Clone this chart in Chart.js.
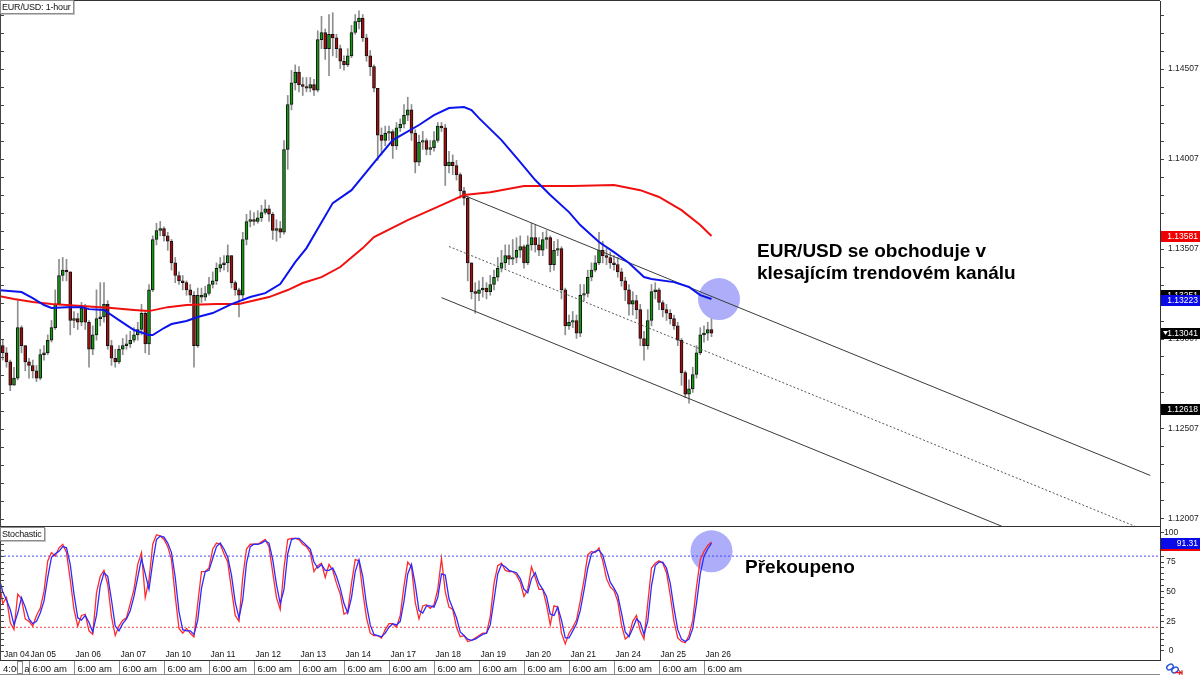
<!DOCTYPE html>
<html lang="cs">
<head>
  <meta charset="UTF-8">
  <title>EUR/USD: 1-hour</title>
  <script src="https://cdn.jsdelivr.net/npm/chart.js"></script>
  <style>
    body {
      margin: 0;
      background: #fff;
      font-family: 'Liberation Sans', Arial, sans-serif;
    }

    #wrap {
      position: relative;
      width: 1200px;
      height: 675px;
      overflow: hidden;
      background: #fff;
    }

    #mainPanel { position: absolute; left: 0; top: 0; }
    #stochPanel { position: absolute; left: 0; top: 527px; }

    .caption {
      position: absolute;
      left: 0;
      background: #fff;
      border: 1px solid #8c8c8c;
      box-shadow: 1px 1px 0 #c4c4c4;
      font-size: 9px;
      line-height: 12px;
      letter-spacing: -0.2px;
      padding: 0 2px 0 1px;
      color: #111;
    }

    .note {
      position: absolute;
      font-weight: bold;
      font-size: 19px;
      line-height: 21.5px;
      color: #000;
      white-space: nowrap;
    }
  </style>
</head>
<body>
<div id="wrap">
  <canvas id="mainPanel" width="1200" height="527"></canvas>
  <canvas id="stochPanel" width="1200" height="148"></canvas>
  <div class="caption" style="top:0">EUR/USD: 1-hour</div>
  <div class="caption" style="top:527px">Stochastic</div>
  <div class="note" style="left:757px; top:240px">EUR/USD se obchoduje v<br>klesajícím trendovém kanálu</div>
  <div class="note" style="left:745px; top:556px">Překoupeno</div>
</div>

<script>
  // 2-hour candles, index 0 = Jan 04 08:00, a new day every 12 candles
  const opens = [
    1.1300,1.1297,1.1293,1.1288,1.1275,1.1279,1.1307,1.1297,1.1288,1.1286,
    1.1283,1.1279,1.1292,1.1293,1.1300,1.1307,1.1320,1.1336,1.1339,1.1338,
    1.1311,1.1312,1.1310,1.1318,1.1310,1.1295,1.1303,1.1312,1.1313,1.1320,
    1.1297,1.1290,1.1288,1.1295,1.1297,1.1298,1.1300,1.1303,1.1306,1.1315,
    1.1298,1.1328,1.1356,1.1361,1.1362,1.1358,1.1355,1.1343,1.1336,1.1333,
    1.1332,1.1328,1.1325,1.1297,1.1325,1.1324,1.1326,1.1331,1.1333,1.1340,
    1.1342,1.1343,1.1347,1.1332,1.1328,1.1325,1.1356,1.1366,1.1367,1.1366,
    1.1368,1.1371,1.1373,1.1370,1.1361,1.1362,1.1360,1.1406,1.1431,1.1443,
    1.1449,1.1442,1.1441,1.1440,1.1442,1.1439,1.1467,1.1471,1.1462,1.1470,
    1.1468,1.1462,1.1455,1.1453,1.1458,1.1471,1.1477,1.1479,1.1468,1.1458,
    1.1452,1.1440,1.1414,1.1411,1.1415,1.1416,1.1408,1.1418,1.1420,1.1425,
    1.1428,1.1415,1.1399,1.1410,1.1411,1.1406,1.1407,1.1411,1.1419,1.1418,
    1.1397,1.1399,1.1397,1.1392,1.1383,1.1379,1.1343,1.1327,1.1326,1.1328,
    1.1329,1.1327,1.1331,1.1335,1.1340,1.1343,1.1347,1.1345,1.1346,1.1350,
    1.1352,1.1343,1.1353,1.1357,1.1353,1.1350,1.1356,1.1357,1.1342,1.1350,
    1.1351,1.1328,1.1308,1.1310,1.1311,1.1304,1.1325,1.1326,1.1335,1.1339,
    1.1343,1.1350,1.1347,1.1346,1.1343,1.1342,1.1338,1.1333,1.1328,1.1320,
    1.1322,1.1317,1.1301,1.1297,1.1311,1.1327,1.1328,1.1321,1.1317,1.1315,
    1.1312,1.1308,1.1300,1.1282,1.1270,1.1273,1.1281,1.1293,1.1303,1.1304,
    1.1306
  ];
  const highs = [
    1.1303,1.1300,1.1296,1.1289,1.1285,1.1322,1.1308,1.1297,1.1290,1.1289,
    1.1286,1.1295,1.1297,1.1303,1.1311,1.1328,1.1345,1.1346,1.1345,1.1338,
    1.1316,1.1315,1.1321,1.1320,1.1311,1.1308,1.1328,1.1332,1.1332,1.1322,
    1.1300,1.1295,1.1297,1.1301,1.1303,1.1305,1.1307,1.1310,1.1320,1.1316,
    1.1331,1.1358,1.1365,1.1366,1.1363,1.1360,1.1356,1.1346,1.1338,1.1336,
    1.1333,1.1331,1.1327,1.1329,1.1329,1.1330,1.1335,1.1338,1.1343,1.1346,
    1.1347,1.1353,1.1347,1.1333,1.1329,1.1360,1.1370,1.1372,1.1371,1.1372,
    1.1375,1.1378,1.1375,1.1371,1.1367,1.1366,1.1411,1.1436,1.1450,1.1453,
    1.1452,1.1446,1.1446,1.1446,1.1445,1.1472,1.1480,1.1473,1.1481,1.1482,
    1.1470,1.1464,1.1458,1.1462,1.1475,1.1481,1.1483,1.1481,1.1470,1.1461,
    1.1453,1.1440,1.1418,1.1419,1.1419,1.1417,1.1421,1.1423,1.1431,1.1435,
    1.1431,1.1417,1.1414,1.1416,1.1412,1.1411,1.1416,1.1421,1.1421,1.1420,
    1.1405,1.1403,1.1400,1.1393,1.1385,1.1380,1.1343,1.1332,1.1333,1.1335,
    1.1332,1.1336,1.1339,1.1346,1.1350,1.1353,1.1353,1.1356,1.1357,1.1358,
    1.1353,1.1358,1.1365,1.1364,1.1357,1.1360,1.1361,1.1358,1.1355,1.1356,
    1.1352,1.1329,1.1314,1.1316,1.1314,1.1331,1.1331,1.1339,1.1343,1.1347,
    1.1360,1.1355,1.1351,1.1349,1.1347,1.1346,1.1340,1.1335,1.1331,1.1327,
    1.1325,1.1320,1.1305,1.1317,1.1331,1.1332,1.1329,1.1322,1.1320,1.1317,
    1.1314,1.1310,1.1301,1.1283,1.1278,1.1285,1.1297,1.1307,1.1308,1.1310,
    1.1312
  ];
  const lows = [
    1.1295,1.1289,1.1285,1.1272,1.1275,1.1278,1.1293,1.1283,1.1279,1.1279,
    1.1277,1.1278,1.1289,1.1292,1.1299,1.1306,1.1320,1.1333,1.1333,1.1303,
    1.1307,1.1306,1.1308,1.1306,1.1285,1.1292,1.1300,1.1308,1.1310,1.1295,
    1.1286,1.1285,1.1287,1.1292,1.1295,1.1296,1.1299,1.1300,1.1303,1.1293,
    1.1292,1.1327,1.1353,1.1358,1.1355,1.1350,1.1339,1.1332,1.1331,1.1328,
    1.1325,1.1321,1.1285,1.1296,1.1321,1.1322,1.1325,1.1329,1.1331,1.1338,
    1.1339,1.1338,1.1329,1.1325,1.1313,1.1322,1.1353,1.1363,1.1364,1.1365,
    1.1366,1.1370,1.1366,1.1356,1.1355,1.1357,1.1359,1.1395,1.1428,1.1439,
    1.1438,1.1436,1.1438,1.1438,1.1436,1.1438,1.1462,1.1456,1.1447,1.1458,
    1.1457,1.1451,1.1450,1.1452,1.1457,1.1470,1.1473,1.1466,1.1455,1.1447,
    1.1438,1.1400,1.1403,1.1408,1.1411,1.1401,1.1406,1.1416,1.1418,1.1422,
    1.1411,1.1393,1.1397,1.1406,1.1403,1.1403,1.1405,1.1410,1.1416,1.1386,
    1.1393,1.1392,1.1389,1.1379,1.1375,1.1333,1.1323,1.1315,1.1322,1.1324,
    1.1323,1.1325,1.1328,1.1333,1.1338,1.1340,1.1342,1.1342,1.1343,1.1346,
    1.1340,1.1342,1.1350,1.1349,1.1347,1.1347,1.1351,1.1338,1.1339,1.1347,
    1.1323,1.1303,1.1306,1.1307,1.1301,1.1302,1.1322,1.1324,1.1333,1.1338,
    1.1342,1.1343,1.1342,1.1340,1.1339,1.1335,1.1330,1.1322,1.1314,1.1314,
    1.1312,1.1297,1.1289,1.1295,1.1308,1.1323,1.1317,1.1313,1.1311,1.1309,
    1.1306,1.1297,1.1275,1.1268,1.1265,1.1271,1.1279,1.1292,1.1299,1.1300,
    1.1302
  ];
  const closes = [
    1.1297,1.1293,1.1288,1.1275,1.1279,1.1307,1.1297,1.1288,1.1286,1.1283,
    1.1279,1.1292,1.1293,1.1300,1.1307,1.1320,1.1336,1.1339,1.1338,1.1311,
    1.1312,1.1310,1.1318,1.1310,1.1295,1.1303,1.1312,1.1313,1.1320,1.1297,
    1.1290,1.1288,1.1295,1.1297,1.1298,1.1300,1.1303,1.1306,1.1315,1.1298,
    1.1328,1.1356,1.1361,1.1362,1.1358,1.1355,1.1343,1.1336,1.1333,1.1332,
    1.1328,1.1325,1.1297,1.1325,1.1324,1.1326,1.1331,1.1333,1.1340,1.1342,
    1.1343,1.1347,1.1332,1.1328,1.1325,1.1356,1.1366,1.1367,1.1366,1.1368,
    1.1371,1.1373,1.1370,1.1361,1.1362,1.1360,1.1406,1.1431,1.1443,1.1449,
    1.1442,1.1441,1.1440,1.1442,1.1439,1.1467,1.1471,1.1462,1.1470,1.1468,
    1.1462,1.1455,1.1453,1.1458,1.1471,1.1477,1.1479,1.1468,1.1458,1.1452,
    1.1440,1.1414,1.1411,1.1415,1.1416,1.1408,1.1418,1.1420,1.1425,1.1428,
    1.1415,1.1399,1.1410,1.1411,1.1406,1.1407,1.1411,1.1419,1.1418,1.1397,
    1.1399,1.1397,1.1392,1.1383,1.1379,1.1343,1.1327,1.1326,1.1328,1.1329,
    1.1327,1.1331,1.1335,1.1340,1.1343,1.1347,1.1345,1.1346,1.1350,1.1352,
    1.1343,1.1353,1.1357,1.1353,1.1350,1.1356,1.1357,1.1342,1.1350,1.1351,
    1.1328,1.1308,1.1310,1.1311,1.1304,1.1325,1.1326,1.1335,1.1339,1.1343,
    1.1350,1.1347,1.1346,1.1343,1.1342,1.1338,1.1333,1.1328,1.1320,1.1322,
    1.1317,1.1301,1.1297,1.1311,1.1327,1.1328,1.1321,1.1317,1.1315,1.1312,
    1.1308,1.1300,1.1282,1.1270,1.1273,1.1281,1.1293,1.1303,1.1304,1.1306,
    1.1304
  ];

  // moving averages (candle index, price)
  const smaFastIdx = [0,6,9,12,14,18,22,24,28,32,36,40,41,44,46,50,53,57,62,67,
    71,75,79,82,89,94,101,105,112,116,120,124,126,128,134,139,143,147,152,155,
    160,164,168,172,174,180,184,187,190];
  const smaFast = [1.13279,1.13268,1.13234,1.13196,1.13179,1.13184,1.13184,1.13173,1.13168,1.13112,
    1.13057,1.13029,1.13029,1.13068,1.13090,1.13107,1.13129,1.13151,1.13201,1.13240,
    1.13262,1.13312,1.13434,1.13512,1.13762,1.13834,1.14012,1.14112,1.14196,1.14251,
    1.14290,1.14296,1.14279,1.14234,1.14112,1.13990,1.13890,1.13807,1.13712,1.13640,
    1.13546,1.13490,1.13429,1.13351,1.13340,1.13323,1.13296,1.13251,1.13229];
  const smaSlowIdx = [0,4,9,14,22,30,36,40,45,50,58,64,72,77,81,86,91,97,100,109,
    118,124,131,140,153,164,171,176,182,187,190];
  const smaSlow = [1.13246,1.13229,1.13212,1.13201,1.13190,1.13179,1.13168,1.13162,1.13184,1.13196,
    1.13201,1.13201,1.13240,1.13279,1.13318,1.13351,1.13407,1.13512,1.13573,1.13668,
    1.13751,1.13807,1.13823,1.13857,1.13857,1.13862,1.13834,1.13796,1.13723,1.13640,
    1.13579];

  // trend channel: top, middle, bottom
  const channelIdx = [[124, 307], [120, 307], [118, 307]];
  const channelPrice = [[1.13805, 1.12249], [1.13521, 1.11932], [1.13237, 1.11630]];

  const stochK = [
    60,40,45,24,18,48,44,27,25,21, 30,36,50,76,83,80,87,90,83,60,
    35,21,30,31,17,14,49,63,68,56, 29,13,21,26,28,40,52,73,83,45,
    60,90,98,97,94,88,77,46,19,15, 19,15,12,40,67,67,70,86,91,90,
    82,75,52,30,25,62,86,90,90,90, 92,94,88,66,45,35,70,94,95,95,
    94,90,88,83,67,72,74,62,73,68, 57,48,31,33,57,77,76,50,28,15,
    13,13,11,18,23,23,20,30,55,75, 71,41,27,38,39,36,39,52,78,50,
    37,35,20,12,13,8,9,11,13,15, 15,29,57,72,74,68,67,67,64,58,
    46,52,71,62,52,52,39,22,38,37, 15,6,15,20,26,42,60,81,84,83,
    87,76,61,54,51,42,22,10,13,25, 30,17,10,40,70,74,76,74,66,47,
    25,11,8,7,13,26,54,77,84,89, 92
  ];
  const stochD = [
    62,50,43,35,22,32,45,37,27,23, 25,32,42,62,79,82,84,88,87,73,
    48,28,26,30,24,16,30,55,66,63, 43,21,17,23,27,34,46,62,78,65,
    52,75,94,97,96,91,83,62,33,18, 17,17,14,26,53,67,68,78,88,91,
    86,79,64,41,28,43,74,88,90,90, 91,93,91,77,56,40,52,82,94,95,
    95,92,89,86,75,70,73,68,68,70, 63,53,40,32,45,67,77,63,39,22,
    14,13,12,15,20,23,22,25,42,65, 73,56,34,32,38,38,37,45,65,64,
    44,36,28,16,13,10,9,10,12,14, 15,22,43,65,73,71,68,67,66,61,
    52,49,61,66,57,52,46,31,30,37, 26,11,11,17,23,34,51,70,82,84,
    85,81,69,58,53,47,32,16,12,19, 27,24,14,25,55,72,75,75,70,57,
    36,18,10,8,10,19,40,65,80,86, 91
  ];
  const stochLevels = [80, 20];

  const dayStartIdx = [8,20,32,44,56,68,80,92,104,116,128,140,152,164,176,188];
  const dayLabels = ['Jan 05','Jan 06','Jan 07','Jan 10','Jan 11','Jan 12','Jan 13','Jan 14',
    'Jan 17','Jan 18','Jan 19','Jan 20','Jan 21','Jan 24','Jan 25','Jan 26'];
  const firstDayLabel = 'Jan 04';
  const firstTimeLabel = '4:00 am';
  const dayTimeLabel = '6:00 am';

  const priceTickLabels = ['1.12007','1.12507','1.13007','1.13507','1.14007','1.14507'];
  const stochTickLabels = ['0','25','50','75','100'];

  const tagPrices = [1.13251, 1.13581, 1.13223, 1.13041, 1.12618];
  const tagStoch = [89.6, 91.31];
  const highlightMain = { x: 192, y: 1.13229 };
  const highlightStoch = { x: 190, y: 84 };

  const FONT = "'Liberation Sans', Arial, sans-serif";
  const xMin = 0.27, xMax = 309.6;
  const priceMin = 1.11968, priceMax = 1.14885;
  const stochMin = -7.6, stochMax = 104.55;

  const tagColors = ['#000', '#f00000', '#0a0ae8', '#000', '#000'];
  const stochTagColors = ['#f00000', '#0a0ae8'];

  Chart.defaults.font.family = FONT;

  function drawLeftTicks(chart) {
    const { ctx, chartArea, scales } = chart;
    ctx.save();
    ctx.strokeStyle = '#444';
    ctx.lineWidth = 1;
    ctx.beginPath();
    ctx.moveTo(0.5, 0);
    ctx.lineTo(0.5, chartArea.bottom);
    scales.y.ticks.forEach(t => {
      const y = Math.round(scales.y.getPixelForValue(t.value)) + 0.5;
      ctx.moveTo(0, y);
      ctx.lineTo(4, y);
    });
    ctx.stroke();
    ctx.restore();
  }

  function drawTag(ctx, left, y, fill, text) {
    const cy = Math.round(y);
    ctx.fillStyle = fill;
    ctx.fillRect(left, cy - 5, 40, 11);
    ctx.fillStyle = '#fff';
    ctx.font = `8.5px ${FONT}`;
    ctx.textBaseline = 'middle';
    ctx.textAlign = 'right';
    ctx.fillText(text, left + 37, cy + 0.5);
  }

  function drawHighlight(chart, spot) {
    const { ctx, scales } = chart;
    ctx.save();
    ctx.fillStyle = 'rgba(92,92,245,0.5)';
    ctx.beginPath();
    ctx.arc(scales.x.getPixelForValue(spot.x), scales.y.getPixelForValue(spot.y), 21, 0, Math.PI * 2);
    ctx.fill();
    ctx.restore();
  }

  const mainDecor = {
    id: 'mainDecor',
    beforeDatasetsDraw(chart) {
      drawHighlight(chart, highlightMain);
    },
    afterDraw(chart) {
      const { ctx, chartArea, scales } = chart;
      drawLeftTicks(chart);
      ctx.save();
      ctx.strokeStyle = '#333';
      ctx.beginPath();
      ctx.moveTo(0, 0.5);
      ctx.lineTo(chartArea.right, 0.5);
      ctx.moveTo(0, chartArea.bottom + 0.5);
      ctx.lineTo(chartArea.right, chartArea.bottom + 0.5);
      ctx.stroke();
      tagPrices.forEach((p, k) => {
        drawTag(ctx, chartArea.right + 1, scales.y.getPixelForValue(p), tagColors[k], p.toFixed(5));
      });
      // marker on the last-price tag
      const ly = Math.round(scales.y.getPixelForValue(closes[closes.length - 1]));
      ctx.fillStyle = '#fff';
      ctx.beginPath();
      ctx.moveTo(chartArea.right + 3, ly - 2);
      ctx.lineTo(chartArea.right + 8, ly - 2);
      ctx.lineTo(chartArea.right + 5.5, ly + 2);
      ctx.closePath();
      ctx.fill();
      ctx.restore();
    }
  };

  const stochDecor = {
    id: 'stochDecor',
    beforeDatasetsDraw(chart) {
      drawHighlight(chart, highlightStoch);
    },
    afterDraw(chart) {
      const { ctx, chartArea, scales } = chart;
      const b = chartArea.bottom;
      const h = chart.height;
      drawLeftTicks(chart);
      ctx.save();
      ctx.fillStyle = '#fff';
      ctx.fillRect(0, b, chartArea.right, h - b);
      ctx.strokeStyle = '#333';
      ctx.beginPath();
      ctx.moveTo(0, b + 0.5);
      ctx.lineTo(chartArea.right, b + 0.5);
      ctx.stroke();

      ctx.strokeStyle = '#8a8a8a';
      ctx.beginPath();
      ctx.moveTo(0, h - 0.5);
      ctx.lineTo(chartArea.right, h - 0.5);
      ctx.stroke();

      const dayFont = `8.5px ${FONT}`;
      const timeFont = `9.5px ${FONT}`;
      ctx.fillStyle = '#111';
      ctx.textAlign = 'left';
      ctx.textBaseline = 'alphabetic';
      ctx.font = dayFont;
      ctx.fillText(firstDayLabel, 4, b - 3);
      ctx.font = timeFont;
      ctx.fillText(firstTimeLabel, 3, h - 3);
      ctx.fillStyle = '#fff';
      ctx.fillRect(17.5, b + 1.5, 5, h - b - 3);
      ctx.strokeRect(17.5, b + 1.5, 5, h - b - 3);

      dayStartIdx.forEach((idx, k) => {
        const px = Math.round(scales.x.getPixelForValue(idx)) + 0.5;
        ctx.fillStyle = '#fff';
        ctx.fillRect(px, b + 1, 42, h - b - 2);
        ctx.strokeStyle = '#8a8a8a';
        ctx.beginPath();
        ctx.moveTo(px, b + 1);
        ctx.lineTo(px, h);
        ctx.stroke();
        ctx.fillStyle = '#111';
        ctx.font = dayFont;
        ctx.fillText(dayLabels[k], px + 1, b - 3);
        ctx.font = timeFont;
        ctx.fillText(dayTimeLabel, px + 3, h - 3);
      });

      tagStoch.forEach((v, k) => {
        drawTag(ctx, chartArea.right + 1, scales.y.getPixelForValue(v), stochTagColors[k], v.toFixed(2));
      });

      // corner icons
      ctx.lineWidth = 1.4;
      ctx.strokeStyle = '#2a55d8';
      ctx.beginPath();
      ctx.ellipse(1170, h - 8, 3.5, 2.5, -0.5, 0, Math.PI * 2);
      ctx.stroke();
      ctx.beginPath();
      ctx.ellipse(1175, h - 5, 3.5, 2.5, -0.5, 0, Math.PI * 2);
      ctx.stroke();
      ctx.fillStyle = '#e02020';
      ctx.font = "bold 11px 'DejaVu Sans'";
      ctx.fillText('⇥', 1183, h - 2);
      ctx.restore();
    }
  };

  function yAxis(min, max, tickValues, labelFor, cross) {
    return {
      position: 'right',
      min: min,
      max: max,
      afterBuildTicks: scale => { scale.ticks = tickValues.map(v => ({ value: v })); },
      afterFit: scale => {
        scale.width = 40;
        scale.paddingTop = 0;
        scale.paddingBottom = 0;
      },
      ticks: {
        autoSkip: false,
        maxRotation: 0,
        padding: cross === 'center' ? 0 : 4,
        crossAlign: cross,
        color: '#222',
        font: { size: 8.5, family: FONT },
        callback: (v, k) => labelFor(k)
      },
      grid: { drawOnChartArea: false, tickLength: 4, color: '#444' },
      border: { color: '#333' }
    };
  }

  const priceTickValues = [];
  for (let k = 0; k <= 28; k++) priceTickValues.push(1.12007 + k * 0.001);
  const stochTickValues = [];
  for (let k = 0; k <= 20; k++) stochTickValues.push(k * 5);

  const xAxis = { type: 'linear', min: xMin, max: xMax, display: false, offset: false, grid: { display: false, offset: false } };

  const bodies = closes.map((c, i) => ({ x: i, y: [opens[i], c] }));
  const wicks = closes.map((c, i) => ({ x: i, y: [lows[i], highs[i]] }));

  const lineBase = { type: 'line', pointRadius: 0, borderWidth: 1, tension: 0, order: 0 };

  new Chart(document.getElementById('mainPanel'), {
    type: 'bar',
    data: {
      datasets: [
        { ...lineBase, label: 'SMA fast', data: smaFastIdx.map((x, k) => ({ x, y: smaFast[k] })), borderColor: '#0c14ee', borderWidth: 2 },
        { ...lineBase, label: 'SMA slow', data: smaSlowIdx.map((x, k) => ({ x, y: smaSlow[k] })), borderColor: '#f01010', borderWidth: 2 },
        { ...lineBase, label: 'Channel top', data: channelIdx[0].map((x, k) => ({ x, y: channelPrice[0][k] })), borderColor: '#3a3a3a' },
        { ...lineBase, label: 'Channel mid', data: channelIdx[1].map((x, k) => ({ x, y: channelPrice[1][k] })), borderColor: '#555', borderDash: [2, 2] },
        { ...lineBase, label: 'Channel bottom', data: channelIdx[2].map((x, k) => ({ x, y: channelPrice[2][k] })), borderColor: '#3a3a3a' },
        {
          type: 'bar', label: 'Body', data: bodies, grouped: false, barThickness: 3, order: 1,
          backgroundColor: ctx => closes[ctx.dataIndex] >= opens[ctx.dataIndex] ? '#119a11' : '#a80c0c',
          borderColor: '#111', borderWidth: 1, borderSkipped: false
        },
        { type: 'bar', label: 'Wick', data: wicks, grouped: false, barThickness: 1, order: 2, backgroundColor: '#8e8e8e', borderWidth: 0 }
      ]
    },
    options: {
      responsive: false,
      animation: false,
      devicePixelRatio: 1,
      events: [],
      layout: { padding: { top: 1, bottom: 1, left: 0, right: 0 } },
      plugins: { legend: { display: false }, tooltip: { enabled: false } },
      scales: {
        x: xAxis,
        y: yAxis(priceMin, priceMax, priceTickValues, k => (k % 5 === 0 ? priceTickLabels[k / 5] : ''), 'near')
      }
    },
    plugins: [mainDecor]
  });

  new Chart(document.getElementById('stochPanel'), {
    type: 'line',
    data: {
      datasets: [
        { ...lineBase, label: '%D', data: stochD.map((v, i) => ({ x: i, y: v })), borderColor: '#2b2bff', borderWidth: 1.3 },
        { ...lineBase, label: '%K', data: stochK.map((v, i) => ({ x: i, y: v })), borderColor: '#ff2b2b', borderWidth: 1.3 },
        { ...lineBase, label: 'Upper', data: [{ x: xMin, y: stochLevels[0] }, { x: xMax, y: stochLevels[0] }], borderColor: '#4a4af5', borderDash: [2, 2], order: 1 },
        { ...lineBase, label: 'Lower', data: [{ x: xMin, y: stochLevels[1] }, { x: xMax, y: stochLevels[1] }], borderColor: '#f04a4a', borderDash: [2, 2], order: 1 }
      ]
    },
    options: {
      responsive: false,
      animation: false,
      devicePixelRatio: 1,
      events: [],
      layout: { padding: { top: 0, bottom: 15, left: 0, right: 0 } },
      plugins: { legend: { display: false }, tooltip: { enabled: false } },
      scales: {
        x: xAxis,
        y: yAxis(stochMin, stochMax, stochTickValues, k => (k % 5 === 0 ? stochTickLabels[k / 5] : ''), 'center')
      }
    },
    plugins: [stochDecor]
  });
</script>
</body>
</html>
